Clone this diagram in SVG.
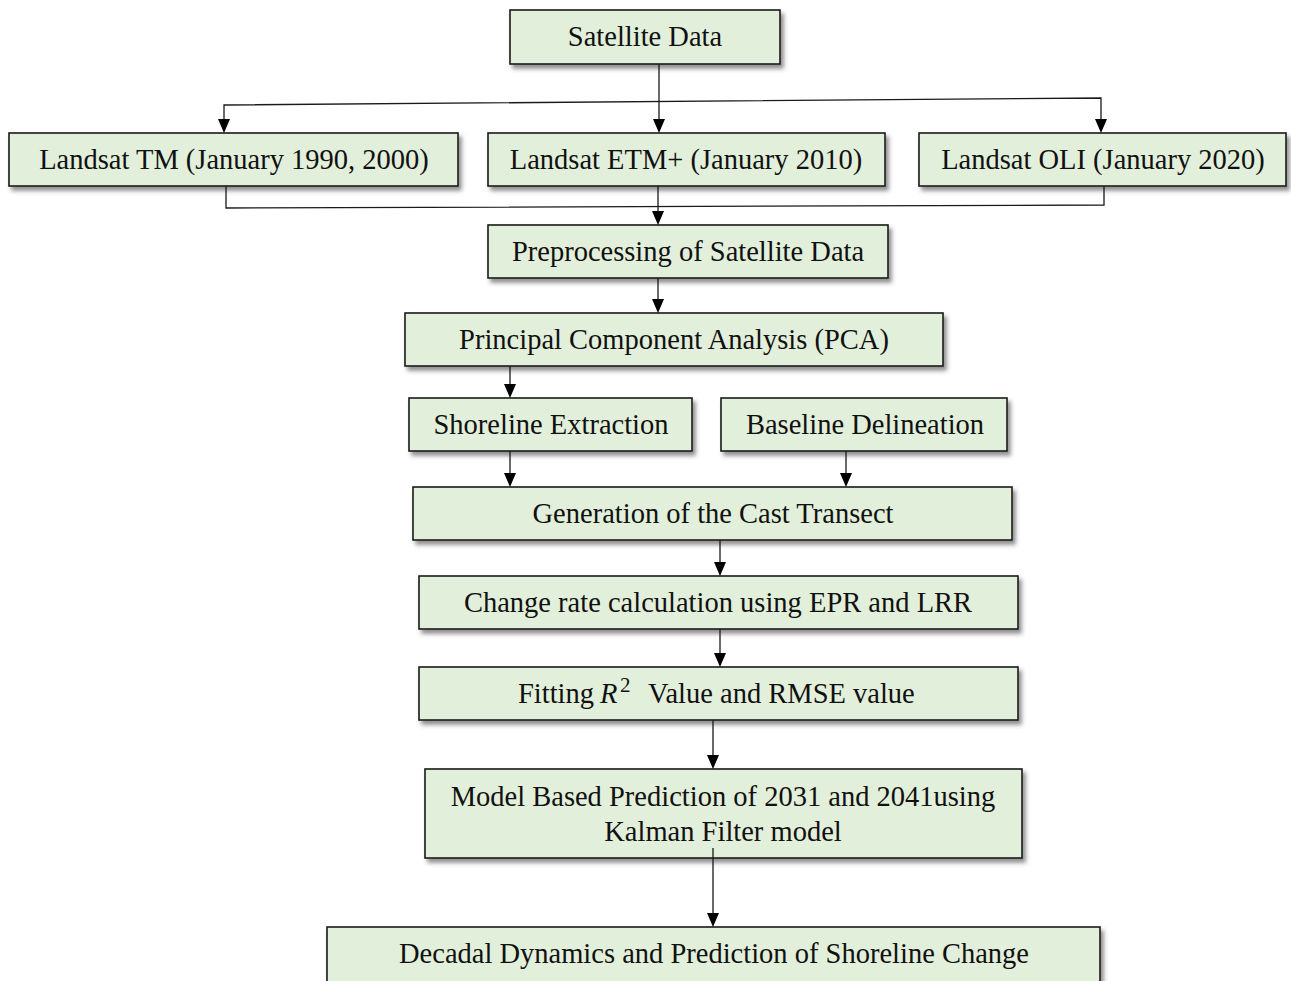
<svg xmlns="http://www.w3.org/2000/svg" width="1291" height="981" viewBox="0 0 1291 981">
<style>
.box{fill:#e2efda;stroke:#1a1a1a;stroke-width:1.6;filter:url(#sh)}
.t{font-family:"Liberation Serif","Times New Roman",serif;font-size:28.5px;fill:#111;text-anchor:middle}
.c{fill:none;stroke:#1a1a1a;stroke-width:1.3}
</style>
<defs>
<filter id="sh" x="-5%" y="-20%" width="112%" height="150%">
<feDropShadow dx="3" dy="4" stdDeviation="2" flood-color="#444" flood-opacity="0.6"/>
</filter>
<path id="ah" d="M-6,-14 L6,-14 L0,0 Z" fill="#000"/>
</defs>
<rect width="1291" height="981" fill="#fff"/>
<g id="n-satellite"><rect class="box" x="510" y="10" width="270" height="54"/><text class="t" x="645" y="46">Satellite Data</text></g>
<g id="n-tm"><rect class="box" x="9" y="133" width="449" height="53"/><text class="t" x="234" y="169">Landsat TM (January 1990, 2000)</text></g>
<g id="n-etm"><rect class="box" x="488" y="133" width="397" height="53"/><text class="t" x="686" y="169">Landsat ETM+ (January 2010)</text></g>
<g id="n-oli"><rect class="box" x="919" y="133" width="367" height="53"/><text class="t" x="1103" y="169">Landsat OLI (January 2020)</text></g>
<g id="n-pre"><rect class="box" x="488" y="225" width="400" height="53"/><text class="t" x="688" y="261">Preprocessing of Satellite Data</text></g>
<g id="n-pca"><rect class="box" x="405" y="313" width="538" height="53"/><text class="t" x="674" y="349">Principal Component Analysis (PCA)</text></g>
<g id="n-shore"><rect class="box" x="409" y="398" width="283" height="53"/><text class="t" x="551" y="434">Shoreline Extraction</text></g>
<g id="n-base"><rect class="box" x="721" y="398" width="286" height="53"/><text class="t" x="865" y="434">Baseline Delineation</text></g>
<g id="n-gen"><rect class="box" x="413" y="487" width="599" height="53"/><text class="t" x="713" y="523">Generation of the Cast Transect</text></g>
<g id="n-change"><rect class="box" x="419" y="576" width="599" height="53"/><text class="t" x="718" y="612">Change rate calculation using EPR and LRR</text></g>
<g id="n-fit"><rect class="box" x="419" y="667" width="599" height="53"/><text class="t" style="text-anchor:start" x="518" y="703">Fitting<tspan x="600" font-style="italic">R</tspan><tspan x="620" y="692" font-size="21">2</tspan><tspan x="648" y="703">Value and RMSE value</tspan></text></g>
<g id="n-model"><rect class="box" x="425" y="769" width="597" height="89"/><text class="t" x="723" y="806">Model Based Prediction of 2031 and 2041using</text><text class="t" x="723" y="841">Kalman Filter model</text></g>
<g id="n-decadal"><rect class="box" x="327" y="927" width="773" height="60"/><text class="t" x="714" y="963">Decadal Dynamics and Prediction of Shoreline Change</text></g>
<g id="connectors">
<line class="c" x1="659" y1="64" x2="659" y2="122"/>
<path class="c" d="M224,122 L224,105 L1101,98 L1101,122"/>
<path class="c" d="M226,186 L226,208 L1104,205 L1104,186"/>
<line class="c" x1="658" y1="186" x2="658" y2="214"/>
<line class="c" x1="658" y1="278" x2="658" y2="302"/>
<line class="c" x1="510" y1="366" x2="510" y2="387"/>
<line class="c" x1="510" y1="451" x2="510" y2="476"/>
<line class="c" x1="846" y1="451" x2="846" y2="476"/>
<line class="c" x1="720" y1="540" x2="720" y2="565"/>
<line class="c" x1="720" y1="629" x2="720" y2="656"/>
<line class="c" x1="713" y1="720" x2="713" y2="758"/>
<line class="c" x1="713" y1="848" x2="713" y2="916"/>
<use href="#ah" x="659" y="133"/>
<use href="#ah" x="224" y="133"/>
<use href="#ah" x="1101" y="133"/>
<use href="#ah" x="658" y="225"/>
<use href="#ah" x="658" y="313"/>
<use href="#ah" x="510" y="398"/>
<use href="#ah" x="510" y="487"/>
<use href="#ah" x="846" y="487"/>
<use href="#ah" x="720" y="576"/>
<use href="#ah" x="720" y="667"/>
<use href="#ah" x="713" y="769"/>
<use href="#ah" x="713" y="927"/>
</g>
</svg>
